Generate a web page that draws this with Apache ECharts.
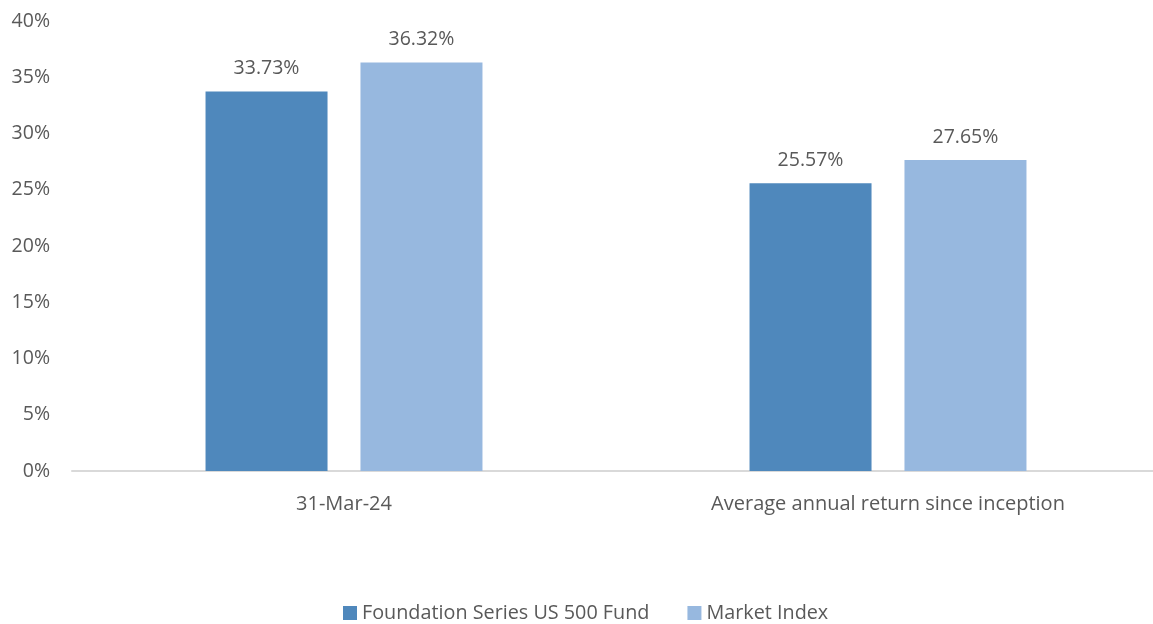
<!DOCTYPE html>
<html><head><meta charset="utf-8">
<script src="https://cdn.jsdelivr.net/npm/echarts@6/dist/echarts.min.js"></script>
<style>html,body{margin:0;padding:0;background:#fff}#c{width:1153px;height:624px}</style>
</head><body><div id="c"></div>
<script>
const categories = ['31-Mar-24', 'Average annual return since inception'];
const seriesNames = ['Foundation Series US 500 Fund', 'Market Index'];
const fundValues = [33.73, 25.57];
const indexValues = [36.32, 27.65];
const colors = ['#4F88BC', '#97B8DF'];
const font = '"Open Sans", sans-serif';
const txt = '#595959';
const chart = echarts.init(document.getElementById('c'));
const lbl = {show:true, position:'top', distance:13, formatter: p => p.value.toFixed(2) + '%', color: txt, fontSize: 19.5, fontFamily: font};
chart.setOption({
  animation:false,
  textStyle:{fontFamily:font},
  legend:{top:603, left:343, padding:0, itemWidth:14, itemHeight:14, itemGap:38, icon:'rect',
    textStyle:{color:txt, fontSize:19.8, fontFamily:font}, data: seriesNames},
  grid:{left:72, width:1088, top:21, height:450, outerBoundsMode:'none', containLabel:false},
  xAxis:{type:'category', data:categories,
    axisLine:{lineStyle:{color:'#D9D9D9', width:2}}, axisTick:{show:false},
    axisLabel:{color:txt, fontSize:20, fontFamily:font, margin:23}},
  yAxis:{type:'value', min:0, max:40, interval:5,
    axisLabel:{formatter:'{value}%', color:txt, fontSize:19.5, fontFamily:font, margin:22},
    splitLine:{show:false}, axisLine:{show:false}, axisTick:{show:false}},
  series:[
    {name:seriesNames[0], type:'bar', data:fundValues, barWidth:122, barGap:'27%', itemStyle:{color:colors[0]}, label:lbl},
    {name:seriesNames[1], type:'bar', data:indexValues, barWidth:122, itemStyle:{color:colors[1]}, label:lbl}
  ]
});
</script></body></html>
